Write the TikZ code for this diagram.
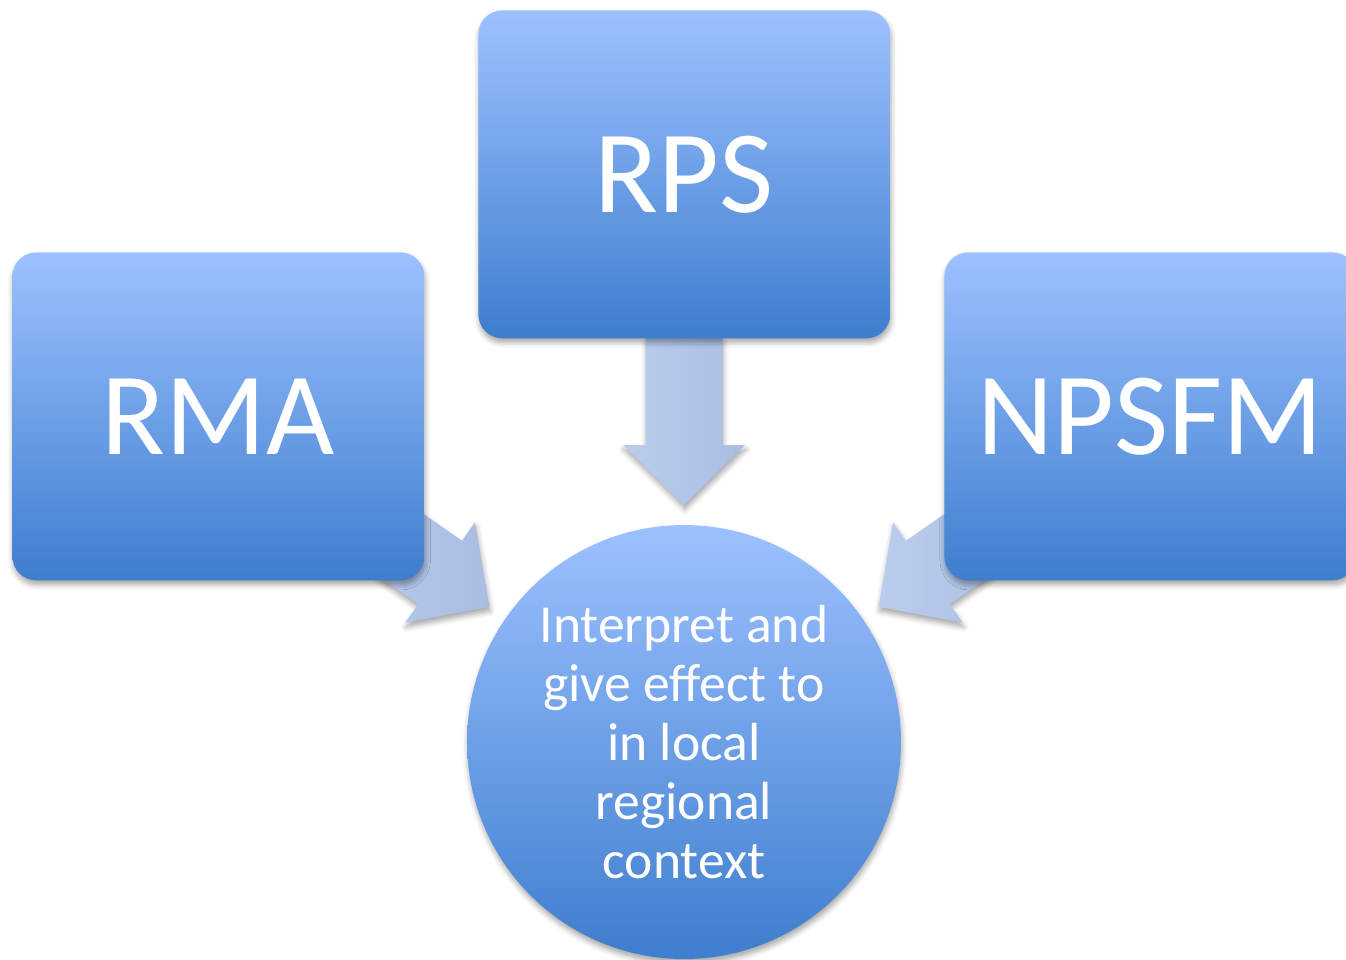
\documentclass[tikz,border=0pt]{standalone}
\usepackage{fontspec}
\setmainfont{Carlito}
\usetikzlibrary{calc, shadows.blur, backgrounds}
\definecolor{SkyTop}{RGB}{157, 193, 255}
\definecolor{SkyBottom}{RGB}{62, 126, 206}
\definecolor{ArrowTail}{RGB}{186, 205, 236}
\definecolor{ArrowTip}{RGB}{168, 189, 226}

\tikzset{
    softshadow/.style={blur shadow={shadow xshift=0.5pt, shadow yshift=-2.5pt,
        shadow blur radius=3pt, shadow opacity=35}},
    actbox/.style={rectangle, rounded corners=0.48cm, minimum width=8.24cm,
        minimum height=6.56cm, inner sep=0pt, top color=SkyTop, bottom color=SkyBottom,
        text=white, font=\fontsize{67}{72}\selectfont, softshadow},
    goalnode/.style={circle, minimum size=8.68cm, inner sep=0pt, align=center,
        top color=SkyTop, bottom color=SkyBottom, text=white,
        font=\fontsize{30.5}{33.5}\selectfont, softshadow},
    flowarrow/.style={left color=ArrowTail, right color=ArrowTip, softshadow}
}

\begin{document}
\begin{tikzpicture}[x=0.02cm, y=0.02cm]
    % Marco de la imagen
    \useasboundingbox (0,0) rectangle (1346,-960);

    % Cajas de origen
    \node[actbox, anchor=north west] (rps) at (478,-10) {RPS};
    \node[actbox, anchor=north west] (rma) at (12,-252) {RMA};
    \node[actbox, anchor=north west] (npsfm) at (944,-252) {NPSFM};

    % Circulo de destino
    \node[goalnode] (goal) at (684,-742)
        {Interpret and\\give effect to\\in local\\regional\\context};

    % Flechas hacia el circulo (detras de las cajas)
    \begin{scope}[on background layer]
        \foreach \ang/\nm in {145.2/rma, 90/rps, 34.8/npsfm} {
            \coordinate (tip-\nm) at ($(goal.center)+(\ang:237)$);
            \begin{scope}[shift={(tip-\nm)}, rotate=\ang+180]
                \path[flowarrow] (0,0) -- (-60,61) -- (-60,38.5) -- (-167,38.5)
                    -- (-167,-38.5) -- (-60,-38.5) -- (-60,-61) -- cycle;
            \end{scope}
        }
    \end{scope}
\end{tikzpicture}
\end{document}
